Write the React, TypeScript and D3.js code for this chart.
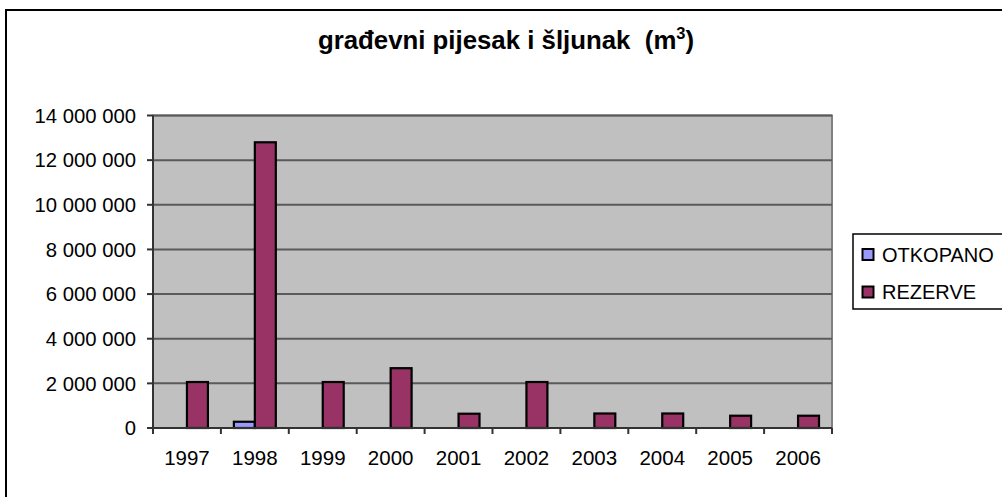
import * as d3 from "d3";
import React from "react";

// data
const years = ["1997", "1998", "1999", "2000", "2001", "2002", "2003", "2004", "2005", "2006"];
const otkopano = [0, 280000, 0, 0, 0, 0, 0, 0, 0, 0];
const rezerve = [2060000, 12800000, 2060000, 2680000, 640000, 2060000, 650000, 650000, 550000, 550000];
const seriesNames = ["OTKOPANO", "REZERVE"];
const seriesColors = ["#9999ff", "#993366"];
const yTicks = [0, 2000000, 4000000, 6000000, 8000000, 10000000, 12000000, 14000000];

const W = 1002;
const H = 497;
const plot = { left: 153, right: 832, top: 115.5, bottom: 428 };

const fmt = (v: number) => d3.format(",")(v).replace(/,/g, " ");

const App = () => {
  const x0 = d3.scaleBand().domain(years).range([plot.left, plot.right]);
  const x1 = d3
    .scaleBand()
    .domain(seriesNames)
    .range([0, x0.bandwidth()])
    .paddingInner(0)
    .paddingOuter(0.62);
  const y = d3.scaleLinear().domain([0, 14000000]).range([plot.bottom, plot.top]);

  const values = [otkopano, rezerve];
  const font = "'Liberation Sans', Arial, sans-serif";

  return (
    <svg
      width={W}
      height={H}
      style={{ position: "absolute", left: 0, top: 0, background: "#fff" }}
      fontFamily={font}
    >
      {/* chart frame, cut off at right and bottom */}
      <rect x={6} y={10} width={1100} height={600} fill="#fff" stroke="#000" strokeWidth={2} />

      <text
        x={506}
        y={49}
        textAnchor="middle"
        fontSize={25.8}
        fontWeight="bold"
        style={{ whiteSpace: "pre" }}
      >
        {"građevni pijesak i šljunak  (m"}
        <tspan fontSize={16.5} dy={-10}>3</tspan>
        <tspan dy={10}>)</tspan>
      </text>

      {/* plot area */}
      <rect
        x={plot.left}
        y={plot.top}
        width={plot.right - plot.left}
        height={plot.bottom - plot.top}
        fill="#c0c0c0"
        stroke="#808080"
        strokeWidth={2}
      />

      {yTicks.map((t) => (
        <g key={t}>
          <line x1={plot.left} x2={plot.right} y1={y(t)} y2={y(t)} stroke="#5a5a5a" strokeWidth={2} />
          <line x1={plot.left - 6} x2={plot.left} y1={y(t)} y2={y(t)} stroke="#333" strokeWidth={2} />
          <text x={136} y={y(t)} dy="0.36em" textAnchor="end" fontSize={20.3}>
            {fmt(t)}
          </text>
        </g>
      ))}

      {years.map((yr, i) => (
        <g key={yr}>
          {seriesNames.map((s, j) => {
            const v = values[j][i];
            if (!v) return null;
            return (
              <rect
                key={s}
                x={(x0(yr) as number) + (x1(s) as number)}
                y={y(v)}
                width={x1.bandwidth()}
                height={y(0) - y(v)}
                fill={seriesColors[j]}
                stroke="#000"
                strokeWidth={2.2}
              />
            );
          })}
          <text
            x={(x0(yr) as number) + x0.bandwidth() / 2}
            y={465}
            textAnchor="middle"
            fontSize={20.5}
          >
            {yr}
          </text>
        </g>
      ))}

      {/* axes */}
      {years.concat([""]).map((yr, i) => {
        const xp = plot.left + i * x0.step();
        return <line key={i} x1={xp} x2={xp} y1={plot.bottom} y2={plot.bottom + 6} stroke="#333" strokeWidth={2} />;
      })}
      <line x1={plot.left} x2={plot.right} y1={plot.bottom} y2={plot.bottom} stroke="#333" strokeWidth={2} />
      <line x1={plot.left} x2={plot.left} y1={plot.top} y2={plot.bottom} stroke="#333" strokeWidth={2} />

      {/* legend */}
      <rect x={853} y={234} width={200} height={75} fill="#fff" stroke="#000" strokeWidth={1.5} />
      {seriesNames.map((s, j) => (
        <g key={s}>
          <rect x={862.5} y={249 + j * 37.5} width={11} height={11} fill={seriesColors[j]} stroke="#000" strokeWidth={2} />
          <text x={882} y={254.5 + j * 37.5} dy="0.36em" fontSize={20}>
            {s}
          </text>
        </g>
      ))}
    </svg>
  );
};

export default App;
